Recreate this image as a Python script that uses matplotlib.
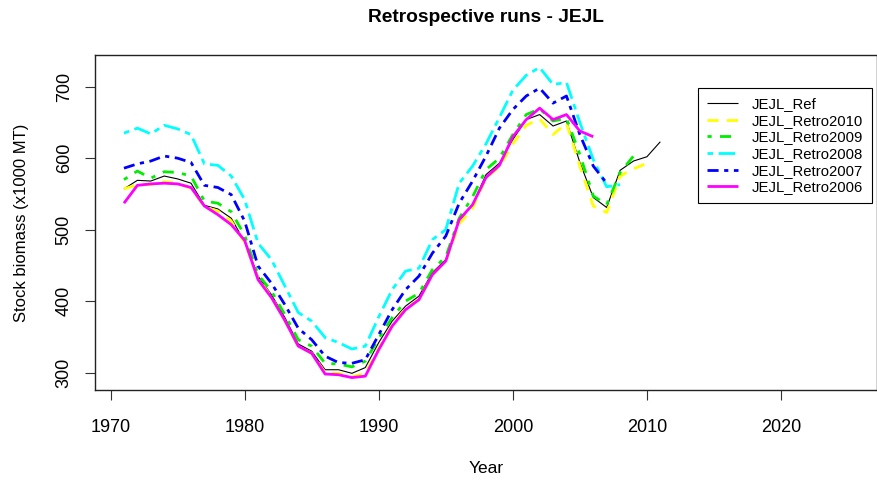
import matplotlib
matplotlib.use('Agg')
import matplotlib.pyplot as plt
import numpy as np

plt.rcParams['font.family'] = ['Liberation Sans', 'DejaVu Sans']

# stock biomass (x1000 MT), reference run and retrospective peels
ref_years = np.arange(1971, 2012)
ref = [557, 569, 568, 575, 571, 565, 534, 529, 516, 483,
       435, 409, 377, 340, 330, 304, 304, 299, 307, 342,
       372, 393, 407, 440, 458, 512, 535, 577, 593, 626,
       654, 661, 645, 652, 594, 545, 531, 583, 596, 602, 623]
retro2010 = [557, 563, 563, 567, 565, 558, 532, 526, 512, 482,
             432, 406, 372, 336, 327, 300, 299, 294, 299, 334,
             366, 390, 402, 437, 455, 508, 530, 572, 588, 620,
             646, 655, 633, 649, 589, 533, 524, 575, 585, 593]
retro2009 = [570, 582, 572, 581, 580, 575, 540, 537, 525, 492,
             437, 414, 381, 346, 337, 313, 312, 308, 316, 348,
             377, 400, 411, 444, 462, 516, 546, 584, 600, 633,
             661, 669, 652, 656, 605, 547, 535, 580, 603]
retro2008 = [635, 642, 634, 646, 641, 633, 592, 590, 575, 542,
             481, 458, 421, 384, 372, 349, 342, 333, 337, 378,
             416, 442, 446, 486, 500, 565, 589, 620, 657, 695,
             716, 727, 703, 706, 650, 598, 560, 563]
retro2007 = [586, 592, 596, 603, 600, 594, 562, 559, 549, 512,
             449, 425, 395, 362, 346, 323, 314, 313, 318, 353,
             388, 416, 435, 467, 491, 537, 568, 603, 642, 668,
             687, 698, 677, 687, 633, 589, 565]
retro2006 = [537, 562, 564, 565, 564, 559, 533, 521, 507, 485,
             430, 405, 373, 337, 327, 298, 297, 293, 295, 332,
             365, 388, 402, 437, 456, 514, 535, 573, 590, 630,
             654, 670, 654, 661, 638, 630]

labels = ['JEJL_Ref', 'JEJL_Retro2010', 'JEJL_Retro2009',
          'JEJL_Retro2008', 'JEJL_Retro2007', 'JEJL_Retro2006']
colors = ['black', 'yellow', '#00ee00', 'cyan', 'blue', 'magenta']
series = [ref, retro2010, retro2009, retro2008, retro2007, retro2006]
styles = ['-', (0, (4, 3)), (0, (1.5, 3, 4, 3)), (0, (2, 2, 6, 2)),
          (0, (4, 2, 1.5, 2)), '-']
widths = [0.8, 2.0, 2.0, 2.0, 2.0, 2.0]

fig = plt.figure(figsize=(8.77, 4.8), dpi=100)
ax = fig.add_axes([95 / 877, 90 / 480, 782 / 877, 335 / 480])

for vals, lab, col, ls, lw in zip(series, labels, colors, styles, widths):
    yrs = ref_years[:len(vals)]
    ax.plot(yrs, vals, color=col, linestyle=ls, linewidth=lw, label=lab,
            dash_capstyle='butt', solid_capstyle='butt')

# R-style axis ranges: data range padded by 4%
x0, x1 = 1971, 2025
allv = np.concatenate([np.asarray(s) for s in series])
y0, y1 = allv.min(), allv.max()
ax.set_xlim(x0 - 0.04 * (x1 - x0), x1 + 0.04 * (x1 - x0))
ax.set_ylim(y0 - 0.04 * (y1 - y0), y1 + 0.04 * (y1 - y0))

ax.set_xticks(np.arange(1970, 2021, 10))
ax.set_yticks(np.arange(300, 701, 100))
ax.tick_params(direction='out', length=7, width=0.8, labelsize=13,
               color='#333333')
ax.tick_params(axis='x', pad=14)
ax.tick_params(axis='y', pad=9)
for t in ax.get_yticklabels():
    t.set_rotation(90)
    t.set_va('center')
for sp in ax.spines.values():
    sp.set_linewidth(1.0)
    sp.set_color('#222222')

ax.set_xlabel('Year', fontsize=12.5, labelpad=18)
ax.set_ylabel('Stock biomass (x1000 MT)', fontsize=12, labelpad=19)
ax.set_title('Retrospective runs - JEJL', fontsize=13.8, fontweight='bold',
             pad=24)

leg = ax.legend(loc='upper left', bbox_to_anchor=(0.771, 0.901),
                fontsize=10.7, frameon=True, fancybox=False,
                edgecolor='black', framealpha=1, borderpad=0.6,
                handlelength=2.1, handletextpad=0.9, labelspacing=0.18,
                borderaxespad=0)
leg.get_frame().set_linewidth(0.8)

fig.savefig('out.png', dpi=100)
